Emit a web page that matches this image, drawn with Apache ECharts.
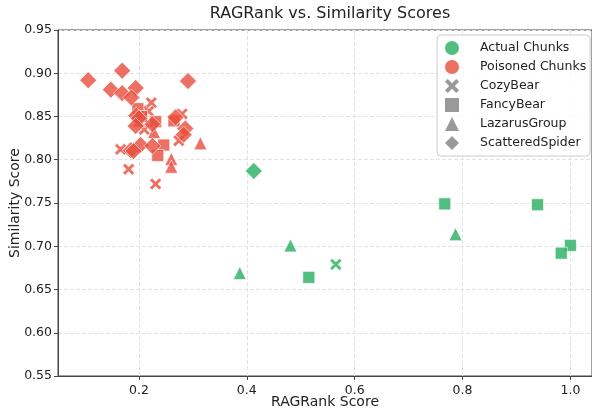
<!DOCTYPE html>
<html>
<head>
<meta charset="utf-8">
<script src="https://cdn.jsdelivr.net/npm/echarts@6/dist/echarts.min.js"></script>
<style>
  html, body { margin: 0; padding: 0; background: #fff; }
  #chart { width: 592px; height: 410px; }
</style>
</head>
<body>
<div id="chart"></div>
<script>
// [RAGRank, similarity] pairs
const actualCozyBear = [[0.565, 0.679]];
const actualFancyBear = [[0.515, 0.664], [0.767, 0.749], [0.939, 0.748], [1.0, 0.701], [0.983, 0.692]];
const actualLazarusGroup = [[0.387, 0.669], [0.481, 0.701], [0.787, 0.714]];
const actualScatteredSpider = [[0.413, 0.787]];

const poisonedCozyBear = [[0.223, 0.866], [0.218, 0.856], [0.28, 0.853], [0.274, 0.822], [0.166, 0.812],
  [0.181, 0.789], [0.231, 0.772], [0.21, 0.835]];
const poisonedFancyBear = [[0.198, 0.859], [0.231, 0.844], [0.265, 0.845], [0.246, 0.817], [0.235, 0.805], [0.205, 0.85]];
const poisonedLazarusGroup = [[0.228, 0.832], [0.314, 0.819], [0.26, 0.801], [0.26, 0.792], [0.2, 0.845]];
const poisonedScatteredSpider = [[0.106, 0.892], [0.169, 0.903], [0.291, 0.891], [0.148, 0.881], [0.169, 0.877],
  [0.194, 0.883], [0.186, 0.872], [0.195, 0.851], [0.2, 0.848], [0.225, 0.841], [0.194, 0.839], [0.268, 0.849],
  [0.286, 0.836], [0.283, 0.829], [0.185, 0.811], [0.203, 0.817], [0.225, 0.816], [0.19, 0.81]];

const xTicks = [0.2, 0.4, 0.6, 0.8, 1.0];
const groupNames = ['Actual Chunks', 'Poisoned Chunks'];
const shapeNames = ['CozyBear', 'FancyBear', 'LazarusGroup', 'ScatteredSpider'];

const GREEN = '#27ae60';
const RED = '#e74c3c';
const GRAY = '#808080';
const GRID_LINE = '#e4e4e4';
const xPath = 'path://M2,0 L5,3 L8,0 L10,2 L7,5 L10,8 L8,10 L5,7 L2,10 L0,8 L3,5 L0,2 Z';
const shapes = {
  CozyBear: { symbol: xPath, size: 12 },
  FancyBear: { symbol: 'rect', size: 12 },
  LazarusGroup: { symbol: 'triangle', size: 13 },
  ScatteredSpider: { symbol: 'diamond', size: 17 }
};

function pointSeries(shape, data, color, idx) {
  return {
    type: 'scatter',
    name: 'pts' + idx,
    data: data,
    symbol: shapes[shape].symbol,
    symbolSize: shapes[shape].size,
    itemStyle: { color: color, opacity: 0.8, borderColor: '#fff', borderWidth: 0.8 }
  };
}

const series = [
  pointSeries('CozyBear', actualCozyBear, GREEN, 0),
  pointSeries('FancyBear', actualFancyBear, GREEN, 1),
  pointSeries('LazarusGroup', actualLazarusGroup, GREEN, 2),
  pointSeries('ScatteredSpider', actualScatteredSpider, GREEN, 3),
  pointSeries('CozyBear', poisonedCozyBear, RED, 4),
  pointSeries('FancyBear', poisonedFancyBear, RED, 5),
  pointSeries('LazarusGroup', poisonedLazarusGroup, RED, 6),
  pointSeries('ScatteredSpider', poisonedScatteredSpider, RED, 7)
];

// vertical grid lines only at the labelled x ticks
series[0].markLine = {
  silent: true, z: 1, symbol: ['none', 'none'],
  label: { show: false },
  lineStyle: { color: GRID_LINE, type: 'dashed', width: 1 },
  data: xTicks.map(v => ({ xAxis: v }))
};

// legend-only series
series.push({ type: 'scatter', name: groupNames[0], data: [], itemStyle: { color: GREEN } });
series.push({ type: 'scatter', name: groupNames[1], data: [], itemStyle: { color: RED } });
shapeNames.forEach(n => series.push({ type: 'scatter', name: n, data: [], symbol: shapes[n].symbol, itemStyle: { color: GRAY } }));

const chart = echarts.init(document.getElementById('chart'));
const font = 'DejaVu Sans';
chart.setOption({
  animation: false,
  backgroundColor: '#fff',
  textStyle: { fontFamily: font },
  title: {
    text: 'RAGRank vs. Similarity Scores',
    left: 325, top: 1, textAlign: 'center',
    textStyle: { fontFamily: font, fontSize: 16, fontWeight: 'normal', color: '#222' }
  },
  grid: { left: 58, right: 0, top: 30, bottom: 34, outerBoundsMode: 'none', show: true, borderColor: '#444', borderWidth: 1 },
  legend: {
    orient: 'vertical', left: 437, top: 35,
    padding: [6, 4, 6, 8],
    itemWidth: 14, itemHeight: 14, itemGap: 5,
    backgroundColor: 'rgba(255,255,255,0.85)',
    borderColor: '#ccc', borderWidth: 1, borderRadius: 4,
    textStyle: { fontFamily: font, fontSize: 12.5, color: '#222', padding: [0, 0, 0, 16] },
    data: [
      { name: groupNames[0], icon: 'circle' },
      { name: groupNames[1], icon: 'circle' },
      { name: 'CozyBear', icon: xPath },
      { name: 'FancyBear', icon: 'rect' },
      { name: 'LazarusGroup', icon: 'triangle' },
      { name: 'ScatteredSpider', icon: 'diamond' }
    ]
  },
  xAxis: {
    type: 'value', min: 0.05, max: 1.04,
    name: 'RAGRank Score', nameLocation: 'middle', nameGap: 19, nameMoveOverlap: false,
    nameTextStyle: { fontFamily: font, fontSize: 14, color: '#222' },
    axisLine: { show: true, lineStyle: { color: '#444' } },
    axisTick: { show: true, length: 4, customValues: xTicks, lineStyle: { color: '#444' } },
    axisLabel: { customValues: xTicks, fontSize: 12.5, color: '#222', formatter: v => v.toFixed(1) },
    splitLine: { show: false }
  },
  yAxis: {
    type: 'value', min: 0.55, max: 0.95, interval: 0.05,
    name: 'Similarity Score', nameLocation: 'middle', nameGap: 36, nameMoveOverlap: false,
    nameTextStyle: { fontFamily: font, fontSize: 14, color: '#222' },
    axisLine: { show: true, lineStyle: { color: '#444' } },
    axisTick: { show: true, length: 4, lineStyle: { color: '#444' } },
    axisLabel: { fontSize: 12.5, color: '#222', margin: 6, formatter: v => v.toFixed(2) },
    splitLine: { show: true, lineStyle: { color: GRID_LINE, type: 'dashed' } }
  },
  series: series
});
</script>
</body>
</html>
